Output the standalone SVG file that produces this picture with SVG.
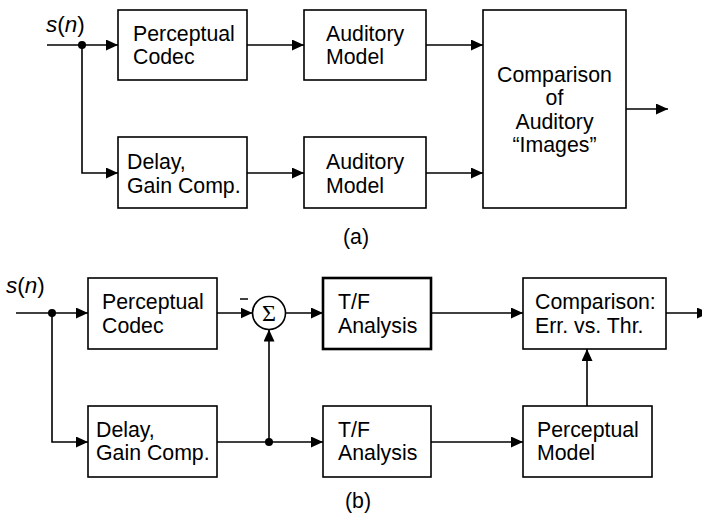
<svg xmlns="http://www.w3.org/2000/svg" width="702" height="516" viewBox="0 0 702 516">
<style>
.box{fill:#fff;stroke:#000;stroke-width:1.6}
.thick{stroke-width:2.6}
.ln{fill:none;stroke:#000;stroke-width:1.6}
.t{font-family:"Liberation Sans",Arial,sans-serif;font-size:21.3px;fill:#000}
.sn{font-size:22.5px}
.it{font-style:italic}
</style>
<defs>
<marker id="ah" markerUnits="userSpaceOnUse" markerWidth="13" markerHeight="12" refX="12" refY="5.5" orient="auto">
<path d="M0,0 L12,5.5 L0,11 z" fill="#000"/>
</marker>
</defs>

<!-- (a) -->
<text class="t sn" x="46" y="32"><tspan class="it">s</tspan>(<tspan class="it">n</tspan>)</text>
<g id="a_codec"><rect class="box" x="118" y="10" width="129" height="70"/><text class="t" x="133" y="41">Perceptual</text><text class="t" x="133" y="64">Codec</text></g>
<g id="a_delay"><rect class="box" x="118" y="137" width="129" height="71"/><text class="t" x="127" y="169">Delay,</text><text class="t" x="127" y="193">Gain Comp.</text></g>
<g id="a_aud1"><rect class="box" x="304" y="10" width="122" height="70"/><text class="t" x="326" y="41">Auditory</text><text class="t" x="326" y="64">Model</text></g>
<g id="a_aud2"><rect class="box" x="304" y="137" width="122" height="71"/><text class="t" x="326" y="169">Auditory</text><text class="t" x="326" y="193">Model</text></g>
<g id="a_comp"><rect class="box" x="483" y="10" width="143" height="198"/><text class="t" x="554.5" y="82" text-anchor="middle">Comparison</text><text class="t" x="554.5" y="105" text-anchor="middle">of</text><text class="t" x="554.5" y="129" text-anchor="middle">Auditory</text><text class="t" x="554.5" y="152" text-anchor="middle">“Images”</text></g>
<text class="t" x="343" y="244">(a)</text>

<g id="a_connectors">
<path class="ln" d="M47,45 H118" marker-end="url(#ah)"/>
<path class="ln" d="M82,45 V173 H118" marker-end="url(#ah)"/>
<circle cx="82" cy="45" r="4" fill="#000"/>
<path class="ln" d="M247,45 H304" marker-end="url(#ah)"/>
<path class="ln" d="M247,173 H304" marker-end="url(#ah)"/>
<path class="ln" d="M426,45 H483" marker-end="url(#ah)"/>
<path class="ln" d="M426,173 H483" marker-end="url(#ah)"/>
<path class="ln" d="M626,109 H668" marker-end="url(#ah)"/>
</g>

<!-- (b) -->
<text class="t sn" x="6" y="293"><tspan class="it">s</tspan>(<tspan class="it">n</tspan>)</text>
<g id="b_codec"><rect class="box" x="88" y="278" width="129" height="71"/><text class="t" x="102" y="309">Perceptual</text><text class="t" x="102" y="333">Codec</text></g>
<g id="b_delay"><rect class="box" x="88" y="406" width="129" height="71"/><text class="t" x="96" y="437">Delay,</text><text class="t" x="96" y="460">Gain Comp.</text></g>
<g id="b_sum"><circle class="box" cx="269" cy="313" r="16.5"/><text x="269" y="321" text-anchor="middle" style="font-family:'Liberation Serif','Times New Roman',serif;font-size:24px">Σ</text><path d="M240,299 H248" stroke="#000" stroke-width="1.5"/></g>
<g id="b_tf1"><rect class="box thick" x="323" y="278" width="108" height="71"/><text class="t" x="338" y="309">T/F</text><text class="t" x="338" y="333">Analysis</text></g>
<g id="b_tf2"><rect class="box" x="323" y="406" width="108" height="71"/><text class="t" x="338" y="437">T/F</text><text class="t" x="338" y="460">Analysis</text></g>
<g id="b_comp"><rect class="box" x="523" y="278" width="143" height="71"/><text class="t" x="535" y="309">Comparison:</text><text class="t" x="535" y="333">Err. vs. Thr.</text></g>
<g id="b_pm"><rect class="box" x="523" y="406" width="129" height="71"/><text class="t" x="537" y="437">Perceptual</text><text class="t" x="537" y="460">Model</text></g>
<text class="t" x="345" y="508">(b)</text>

<g id="b_connectors">
<path class="ln" d="M16,313 H88" marker-end="url(#ah)"/>
<path class="ln" d="M52,313 V442 H88" marker-end="url(#ah)"/>
<circle cx="52" cy="313" r="4" fill="#000"/>
<path class="ln" d="M217,313 H252.5" marker-end="url(#ah)"/>
<path class="ln" d="M285.5,313 H323" marker-end="url(#ah)"/>
<path class="ln" d="M217,442 H323" marker-end="url(#ah)"/>
<path class="ln" d="M269,442 V329.5" marker-end="url(#ah)"/>
<circle cx="269" cy="442" r="4" fill="#000"/>
<path class="ln" d="M431,313 H523" marker-end="url(#ah)"/>
<path class="ln" d="M431,442 H523" marker-end="url(#ah)"/>
<path class="ln" d="M587,406 V349" marker-end="url(#ah)"/>
<path class="ln" d="M666,313 H709" marker-end="url(#ah)"/>
</g>
</svg>
